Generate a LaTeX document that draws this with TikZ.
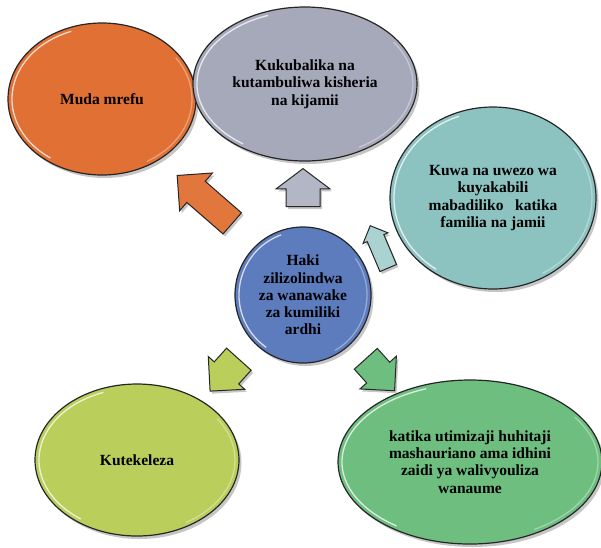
\documentclass[tikz,border=0pt]{standalone}
\usepackage{fontspec}
\setmainfont{Liberation Serif}
\usetikzlibrary{shapes.geometric,shapes.arrows,shadows,calc}

\definecolor{edge}{RGB}{38,38,38}
\definecolor{orangeC}{RGB}{224,112,52}
\definecolor{grayC}{RGB}{166,169,186}
\definecolor{tealC}{RGB}{140,195,193}
\definecolor{blueC}{RGB}{92,124,190}
\definecolor{limeC}{RGB}{186,206,92}
\definecolor{greenC}{RGB}{110,190,128}

\tikzset{
  bubble/.style={ellipse, draw=edge, line width=1.2pt, inner sep=0pt, align=center,
    font=\bfseries\fontsize{15.5}{17.3}\selectfont,
    drop shadow={shadow xshift=2.5pt,shadow yshift=-3pt,opacity=.45},
    path picture={
      \path let \p1=($(path picture bounding box.north east)-(path picture bounding box.center)$) in
        [draw=white, opacity=.75, line width=1.3pt]
        ([shift={(110:{\x1-4pt} and {\y1-4pt})}]path picture bounding box.center)
        arc[start angle=110, end angle=235, x radius=\x1-4pt, y radius=\y1-4pt];
      \path let \p1=($(path picture bounding box.north east)-(path picture bounding box.center)$) in
        [draw=white, opacity=.35, line width=1.3pt]
        ([shift={(-60:{\x1-4pt} and {\y1-4pt})}]path picture bounding box.center)
        arc[start angle=-60, end angle=35, x radius=\x1-4pt, y radius=\y1-4pt];
    }},
  arrowbox/.style={single arrow, draw=edge, line width=1pt, inner xsep=0pt,
    single arrow head indent=0pt,
    drop shadow={shadow xshift=2pt,shadow yshift=-2.5pt,opacity=.45}},
}

\begin{document}
\begin{tikzpicture}[x=1pt,y=-1pt]
\useasboundingbox (0,0) rectangle (601,547);
% Outer bubbles
\node[bubble, fill=orangeC, minimum width=188pt, minimum height=152pt] (muda) at (102,99) {Muda mrefu};
\node[bubble, fill=grayC, minimum width=224pt, minimum height=154pt] (kukubalika) at (305,84)
  {Kukubalika na\\kutambuliwa kisheria\\na kijamii};
\node[bubble, fill=tealC, minimum width=206pt, minimum height=182pt] (uwezo) at (493,198)
  {Kuwa na uwezo wa\\kuyakabili\\mabadiliko\ \ \ katika\\familia na jamii};
\node[bubble, fill=limeC, minimum width=204pt, minimum height=152pt] (kutekeleza) at (137,460) {Kutekeleza};
\node[bubble, fill=greenC, minimum width=264pt, minimum height=164pt] (utimizaji) at (470,462)
  {katika utimizaji huhitaji\\mashauriano ama idhini\\zaidi ya walivyouliza\\wanaume};
% Centre
\node[bubble, fill=blueC, minimum width=136pt, minimum height=136pt] (haki) at (303,295)
  {Haki\\zilizolindwa\\za wanawake\\za kumiliki\\ardhi};
% Arrows
\node[arrowbox, fill=orangeC!95!white, rotate=139, minimum height=73pt, inner ysep=13.5pt,
  single arrow head extend=11pt] (toMuda) at (210,204) {};
\node[arrowbox, fill=grayC!85!white, rotate=90, minimum height=38pt, inner ysep=16.5pt,
  single arrow head extend=10pt, single arrow tip angle=106] (toKukubalika) at (303,194) {};
\node[arrowbox, fill=tealC!75!white, rotate=113, minimum height=46pt, inner ysep=8.5pt,
  single arrow head extend=4.5pt] (toUwezo) at (381,251) {};
\node[arrowbox, fill=limeC, rotate=228, minimum height=43pt, inner ysep=16pt,
  single arrow head extend=8pt] (toKutekeleza) at (230,369) {};
\node[arrowbox, fill=greenC, rotate=-48, minimum height=43pt, inner ysep=15pt,
  single arrow head extend=9pt] (toUtimizaji) at (375,369) {};
\end{tikzpicture}
\end{document}
